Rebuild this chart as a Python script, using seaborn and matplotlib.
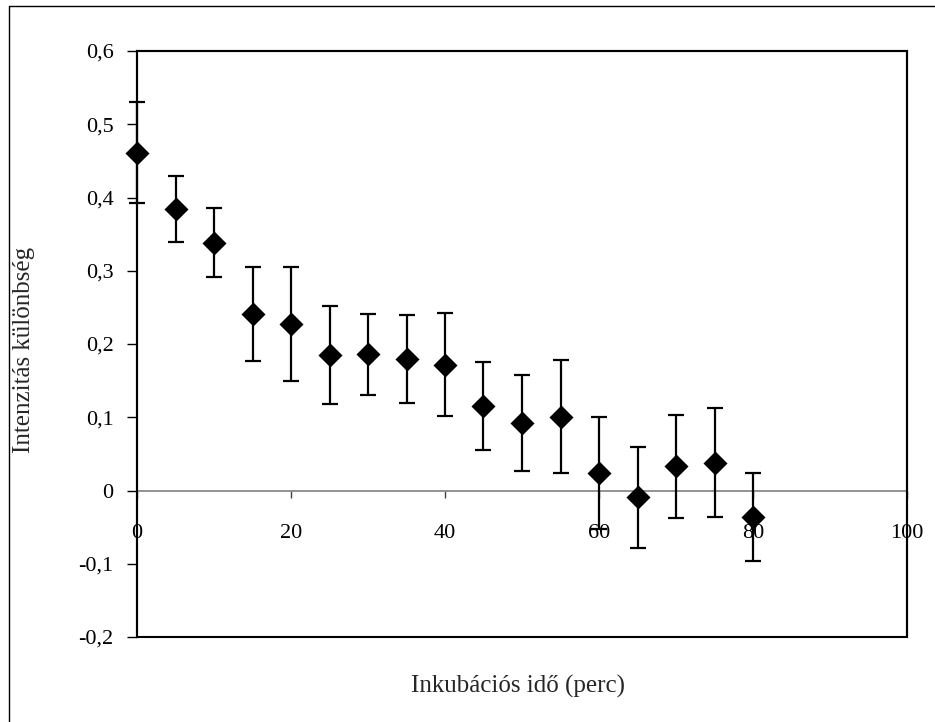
import matplotlib
matplotlib.use("Agg")
import matplotlib.pyplot as plt
from matplotlib.lines import Line2D
from matplotlib.patches import Rectangle
import seaborn as sns
import pandas as pd

time_min = [0, 5, 10, 15, 20, 25, 30, 35, 40, 45, 50, 55, 60, 65, 70, 75, 80]
intensity_diff = [0.461, 0.384, 0.338, 0.241, 0.227, 0.185, 0.186, 0.180, 0.172,
                  0.115, 0.092, 0.101, 0.024, -0.009, 0.033, 0.038, -0.036]
error = [0.069, 0.045, 0.047, 0.064, 0.078, 0.067, 0.055, 0.060, 0.070,
         0.060, 0.066, 0.077, 0.077, 0.069, 0.070, 0.074, 0.060]
y_ticks = [-0.2, -0.1, 0.0, 0.1, 0.2, 0.3, 0.4, 0.5, 0.6]
x_ticks = [0, 20, 40, 60, 80, 100]
x_label = "Inkubációs idő (perc)"
y_label = "Intenzitás különbség"

df = pd.DataFrame({"t": time_min, "v": intensity_diff, "e": error})

sns.set_theme(style="white")
plt.rcParams["font.family"] = ["Liberation Serif", "DejaVu Serif"]

W, H = 935, 722
fig = plt.figure(figsize=(W / 100, H / 100), dpi=100)
fig.patch.set_facecolor("white")
ax = fig.add_axes([137 / W, (H - 637) / H, (907 - 137) / W, (637 - 51) / H])

eb = ax.errorbar(df["t"], df["v"], yerr=df["e"], fmt="none", ecolor="black",
                 elinewidth=1.6, capsize=5.8, capthick=1.6, zorder=4)
for art in eb.get_children():
    art.set_clip_on(False)
sns.scatterplot(data=df, x="t", y="v", marker="D", s=150, color="black",
                edgecolor="black", linewidth=0, ax=ax, zorder=6, legend=False,
                clip_on=False)

ax.set_xlim(0, 100)
ax.set_ylim(-0.2, 0.6)

# frame box
for side in ["top", "right", "left"]:
    ax.spines[side].set_color("black")
    ax.spines[side].set_linewidth(1.5)
ax.spines["bottom"].set_position(("data", 0))
ax.spines["bottom"].set_color("#808080")
ax.spines["bottom"].set_linewidth(1.2)
ax.add_patch(Rectangle((0, 0), 1, 1, transform=ax.transAxes, fill=False,
                       edgecolor="black", linewidth=1.5, zorder=5, clip_on=False))

ax.set_xticks(x_ticks)
ax.set_xticklabels([str(t) for t in x_ticks])
ax.set_yticks(y_ticks)
ax.set_yticklabels([("0" if abs(v) < 1e-9 else f"{v:.1f}".replace(".", ",")) for v in y_ticks])
ax.tick_params(axis="x", direction="out", length=5, width=1, color="#404040",
               labelsize=16, pad=19, labelcolor="black", bottom=True)
ax.tick_params(axis="y", direction="out", length=7, width=1, color="black",
               labelsize=16, pad=10, labelcolor="black", left=True)

ax.set_xlabel("")
ax.set_ylabel("")
fig.text(518 / W, 1 - 686 / H, x_label, ha="center", va="center", fontsize=18)
fig.text(24 / W, 1 - 350 / H, y_label, ha="center", va="center", fontsize=18,
         rotation=90)

# outer chart border
fig.add_artist(Line2D([8.5 / W, 8.5 / W], [0, 1 - 5.5 / H], color="black",
                      linewidth=1, transform=fig.transFigure))
fig.add_artist(Line2D([8.5 / W, 1], [1 - 5.5 / H, 1 - 5.5 / H], color="black",
                      linewidth=1, transform=fig.transFigure))

fig.savefig("out.png", dpi=100, facecolor="white")
